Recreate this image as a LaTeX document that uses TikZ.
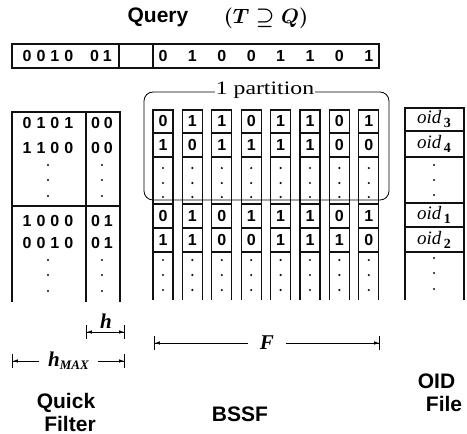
\documentclass[tikz,border=0pt]{standalone}
\usepackage{fontspec}
\setmainfont{Liberation Serif}
\setsansfont{Liberation Sans}
\usepackage{amsmath}
\usepackage{amssymb}
\usetikzlibrary{
arrows.meta,
positioning,
calc
}
\definecolor{BSSFInk}{HTML}{111111}
\newcommand{\spbits}[4]{#1\kern5pt#2\kern5pt#3\kern5pt#4}
\newcommand{\twobits}[2]{#1\kern4pt#2}
\tikzset{
bitlbl/.style={font=\sffamily\bfseries\fontsize{16}{18}\selectfont, inner sep=0pt},
cellline/.style={line width=1.1pt, BSSFInk},
dotmark/.style={circle, fill=BSSFInk, inner sep=0pt, minimum size=2.4pt},
dimline/.style={line width=0.8pt, {Bar[width=14pt]Latex[length=5pt,width=3.5pt]}-{Latex[length=5pt,width=3.5pt]Bar[width=14pt]}},
titlelbl/.style={font=\sffamily\bfseries\fontsize{21}{23}\selectfont},
oidlbl/.style={font=\itshape\fontsize{19}{20}\selectfont, inner sep=0pt},
dimlbl/.style={font=\bfseries\itshape\fontsize{21}{22}\selectfont, inner sep=2pt}
}
\begin{document}
\begin{tikzpicture}[x=1pt,y=-1pt]
\useasboundingbox (0,0) rectangle (467,434);
% query
\node[titlelbl] (qtitle) at (158,17) {Query};
\node[inner sep=0pt, font=\fontsize{22}{24}\selectfont\boldmath] (qform) at (266,18) {$(T \supseteq Q)$};
\draw[cellline] (12,44) rectangle (379,68);
\draw[cellline] (119,44) -- (119,68);
\draw[cellline] (153,44) -- (153,68);
\node[bitlbl] (qqf) at (48,56) {\spbits 0010};
\node[bitlbl] (qqh) at (101,56) {\twobits 01};
\foreach \b [count=\i from 0] in {0,1,0,0,1,1,0,1}
  \node[bitlbl] (q\i) at (163+29.4*\i,56) {\b};
% quick filter
\draw[cellline] (12,302) -- (12,112) -- (120,112) -- (120,302);
\draw[cellline] (86,112) -- (86,302);
\draw[cellline] (12,206) -- (120,206);
\node[bitlbl] (qf1) at (48,123) {\spbits 0101};
\node[bitlbl] (qh1) at (102,123) {\twobits 00};
\node[bitlbl] (qf2) at (48,148) {\spbits 1100};
\node[bitlbl] (qh2) at (102,148) {\twobits 00};
\node[bitlbl] (qf3) at (48,221) {\spbits 1000};
\node[bitlbl] (qh3) at (102,221) {\twobits 01};
\node[bitlbl] (qf4) at (48,243) {\spbits 0010};
\node[bitlbl] (qh4) at (102,243) {\twobits 01};
\foreach \y [count=\k] in {165,180,196,260,275,291} {
  \node[dotmark] (qfd\k) at (48,\y) {};
  \node[dotmark] (qhd\k) at (102,\y) {};
}
% bssf columns
\foreach \a/\b/\c/\d [count=\i from 0] in {0/1/0/1,1/0/1/1,1/1/0/0,0/1/1/0,1/1/1/1,1/1/1/1,0/0/0/1,1/0/1/0} {
  \begin{scope}[xshift={(153+29.4*\i)*1pt}]
    \draw[cellline] (0,300) -- (0,110) -- (20,110) -- (20,300);
    \foreach \y in {133,157,204,228,252}
      \draw[cellline] (0,\y) -- (20,\y);
    \node[bitlbl] (b\i-1) at (10,121) {\a};
    \node[bitlbl] (b\i-2) at (10,145) {\b};
    \node[bitlbl] (b\i-3) at (10,216) {\c};
    \node[bitlbl] (b\i-4) at (10,240) {\d};
    \foreach \y [count=\k] in {168,183,197,260,275,290}
      \node[dotmark] (bd\i-\k) at (10,\y) {};
  \end{scope}
}
\draw[line width=0.8pt, rounded corners=9pt] (144,92) rectangle (389,200);
\node[fill=white, inner sep=1pt, font=\fontsize{19}{20}\selectfont] (part) at (265,90) {\scalebox{1.25}[1]{1 partition}};
% oid file
\draw[cellline] (405,300) -- (405,108) -- (464,108) -- (464,300);
\foreach \y in {131,157,203,227,252}
  \draw[cellline] (405,\y) -- (464,\y);
\node[oidlbl] (oid3) at (434,119) {oid\raisebox{-4pt}{\upshape\bfseries\fontsize{14}{15}\selectfont\,3}};
\node[oidlbl] (oid4) at (434,144) {oid\raisebox{-4pt}{\upshape\bfseries\fontsize{14}{15}\selectfont\,4}};
\node[oidlbl] (oid1) at (434,215) {oid\raisebox{-4pt}{\upshape\bfseries\fontsize{14}{15}\selectfont\,1}};
\node[oidlbl] (oid2) at (434,240) {oid\raisebox{-4pt}{\upshape\bfseries\fontsize{14}{15}\selectfont\,2}};
\foreach \y [count=\k] in {165,180,195,258,273,289}
  \node[dotmark] (od\k) at (434,\y) {};
% dimensions
\coordinate (hL) at (86,332);
\coordinate (hR) at (125,332);
\draw[dimline] (hL) -- (hR);
\node[dimlbl] (hlbl) at (106,321) {h};
\coordinate (hmL) at (12,361);
\coordinate (hmR) at (125,361);
\draw[dimline] (hmL) -- node[fill=white, dimlbl, inner xsep=9pt] (hmlbl) {h\raisebox{-3pt}{\fontsize{13}{14}\selectfont MAX}} (hmR);
\coordinate (fL) at (154,343);
\coordinate (fR) at (380,343);
\draw[dimline] (fL) -- node[fill=white, dimlbl, inner xsep=12pt] (flbl) {F} (fR);
% captions
\node[titlelbl, align=center, font=\sffamily\bfseries\fontsize{21}{23}\selectfont] (qfcap) at (66,412) {Quick\\\hspace*{8pt}Filter};
\node[titlelbl] (bssfcap) at (240,414) {BSSF};
\node[titlelbl, align=right] (oidcap) at (440,393) {OID\hspace*{7pt}\\File};
\end{tikzpicture}
\end{document}
